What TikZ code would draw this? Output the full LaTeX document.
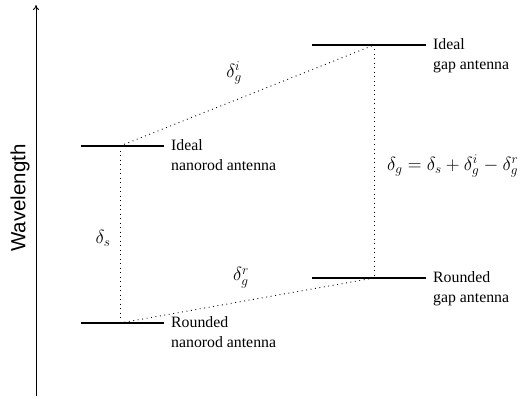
\documentclass[tikz,border=0pt]{standalone}
\usepackage{fix-cm}
\usepackage{fontspec}
\setmainfont{Liberation Serif}
\newfontfamily\axisfont{Liberation Sans}
\usetikzlibrary{arrows.meta,positioning}

\begin{document}
\begin{tikzpicture}[
    x=1pt, y=-1pt,
    level/.style={line width=1.6pt},
    gap/.style={dash pattern=on 0.9pt off 3.6pt, line width=0.9pt},
    lbl/.style={anchor=west, align=left, inner sep=0pt, font=\fontsize{15.8}{19.5}\selectfont},
    delta/.style={font=\fontsize{19}{23}\selectfont, inner sep=1pt},
    axis/.style={-{To[length=5pt,width=6pt]}, line width=0.8pt}
]
\useasboundingbox (0,0) rectangle (526,398);
% wavelength axis
\coordinate (ax-b) at (36,396);
\coordinate (ax-t) at (36,5);
\draw[axis] (ax-b) -- (ax-t);
\node[rotate=90, font=\axisfont\fontsize{20.5}{24}\selectfont] (wl) at (20,198) {Wavelength};
% levels
\coordinate (ni-l) at (81,146);  \coordinate (ni-r) at (164,146);  \coordinate (ni) at (120,146);
\coordinate (nr-l) at (81,323);  \coordinate (nr-r) at (164,323);  \coordinate (nr) at (120,323);
\coordinate (gi-l) at (312,45);  \coordinate (gi-r) at (426,45);   \coordinate (gi) at (374,45);
\coordinate (gr-l) at (312,278); \coordinate (gr-r) at (426,278);  \coordinate (gr) at (374,278);
\draw[level] (ni-l) -- (ni-r);
\draw[level] (nr-l) -- (nr-r);
\draw[level] (gi-l) -- (gi-r);
\draw[level] (gr-l) -- (gr-r);
\node[lbl, below right=-6.5pt and 7pt of ni-r] (ni-txt) {Ideal\\nanorod antenna};
\node[lbl, below right=-6.5pt and 7pt of nr-r] (nr-txt) {Rounded\\nanorod antenna};
\node[lbl, below right=-6.5pt and 7pt of gi-r] (gi-txt) {Ideal\\gap antenna};
\node[lbl, below right=-6.5pt and 7pt of gr-r] (gr-txt) {Rounded\\gap antenna};
% shifts
\draw[gap] (ni) -- (nr);
\draw[gap] (gi) -- (gr);
\draw[gap] (ni) -- (gi);
\draw[gap] (nr) -- (gr);
\node[delta] (ds) at (103,238) {$\delta_s$};
\node[delta] (dgi) at (234,73) {$\delta_g^i$};
\node[delta] (dgr) at (241,278) {$\delta_g^r$};
\node[delta, anchor=west] (dg) at (386,166) {$\delta_g = \delta_s + \delta_g^i - \delta_g^r$};
\end{tikzpicture}
\end{document}
